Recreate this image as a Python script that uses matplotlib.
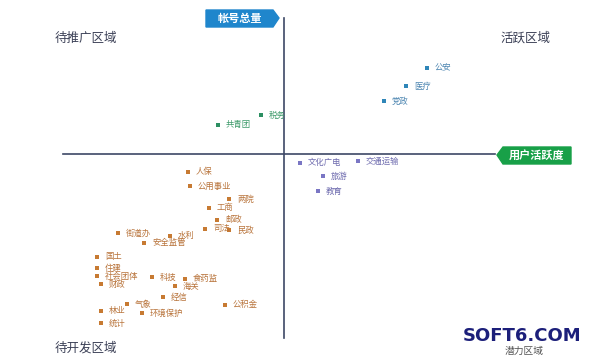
import matplotlib
matplotlib.use("Agg")
import matplotlib.pyplot as plt
from matplotlib.patches import Polygon

plt.rcParams['font.family'] = ['Noto Sans CJK SC', 'DejaVu Sans']

# x: 用户活跃度, y: 帐号总量 (relative to the crossing point)
green_names = ["税务", "共青团"]
green_x = [-23, -66]
green_y = [39, 29]

blue_names = ["公安", "医疗", "党政"]
blue_x = [143, 122, 100]
blue_y = [86, 68, 53]

purple_names = ["文化广电", "交通运输", "旅游", "教育"]
purple_x = [16, 74, 39, 34]
purple_y = [-9, -7, -22, -37]

orange_names = ["人保", "公用事业", "两院", "工商", "邮政", "司法", "民政", "街道办",
                "水利", "安全监管", "国土", "住建", "社会团体", "科技", "食药监", "财政",
                "海关", "经信", "公积金", "气象", "林业", "环境保护", "统计"]
orange_x = [-96, -94, -55, -75, -67, -79, -55, -166, -114, -140, -187, -187,
            -187, -132, -99, -183, -109, -121, -59, -157, -183, -142, -183]
orange_y = [-18, -32, -45, -54, -66, -75, -76, -79, -82, -89, -103, -114,
            -122, -123, -125, -130, -132, -143, -151, -150, -157, -159, -169]

groups = [
    (green_names, green_x, green_y, "#2c8f62", "#3d9a6a"),
    (blue_names, blue_x, blue_y, "#2f86b8", "#4a84b0"),
    (purple_names, purple_x, purple_y, "#7a76c4", "#6d6aae"),
    (orange_names, orange_x, orange_y, "#c77a32", "#b8733a"),
]

fig = plt.figure(figsize=(6, 3.6), dpi=100)
ax = fig.add_axes([0, 0, 1, 1])
ax.set_xlim(-284, 316)
ax.set_ylim(-206, 154)
ax.axis("off")

axis_col = "#3d4866"
ax.plot([-221, 211], [0, 0], color=axis_col, lw=1.2)
ax.plot([0, 0], [-184, 136], color=axis_col, lw=1.2)

for names, xs, ys, mc, tc in groups:
    ax.scatter(xs, ys, marker="s", s=9, color=mc, linewidths=0, zorder=3)
    for n, x, y in zip(names, xs, ys):
        ax.text(x + 8, y, n, fontsize=6, color=tc, va="center", ha="left")

# axis name boxes
blue_box = [(-78, 144), (-11, 144), (-5, 136), (-11, 127), (-78, 127)]
ax.add_patch(Polygon(blue_box, closed=True, color="#1f86cc", zorder=4))
ax.text(-44, 135.5, "帐号总量", fontsize=8, color="white", ha="center", va="center",
        fontweight="bold", zorder=5)

green_box = [(219, 7), (287, 7), (287, -10), (219, -10), (213, -1)]
ax.add_patch(Polygon(green_box, closed=True, color="#18a048", zorder=4))
ax.text(253, -1.5, "用户活跃度", fontsize=8, color="white", ha="center", va="center",
        fontweight="bold", zorder=5)

# quadrant names
qcol = "#3a3f55"
ax.text(-229, 116, "待推广区域", fontsize=9, color=qcol, ha="left", va="center")
ax.text(216, 116, "活跃区域", fontsize=9, color=qcol, ha="left", va="center")
ax.text(-229, -194, "待开发区域", fontsize=9, color=qcol, ha="left", va="center")
ax.text(240, -197, "潜力区域", fontsize=7, color="#555555", ha="center", va="center")

ax.text(238, -182, "SOFT6.COM", fontsize=13, color="#1c1f7a", ha="center", va="center",
        fontweight="bold", family="DejaVu Sans", zorder=6)

fig.savefig("out.png", dpi=100, facecolor="white")
